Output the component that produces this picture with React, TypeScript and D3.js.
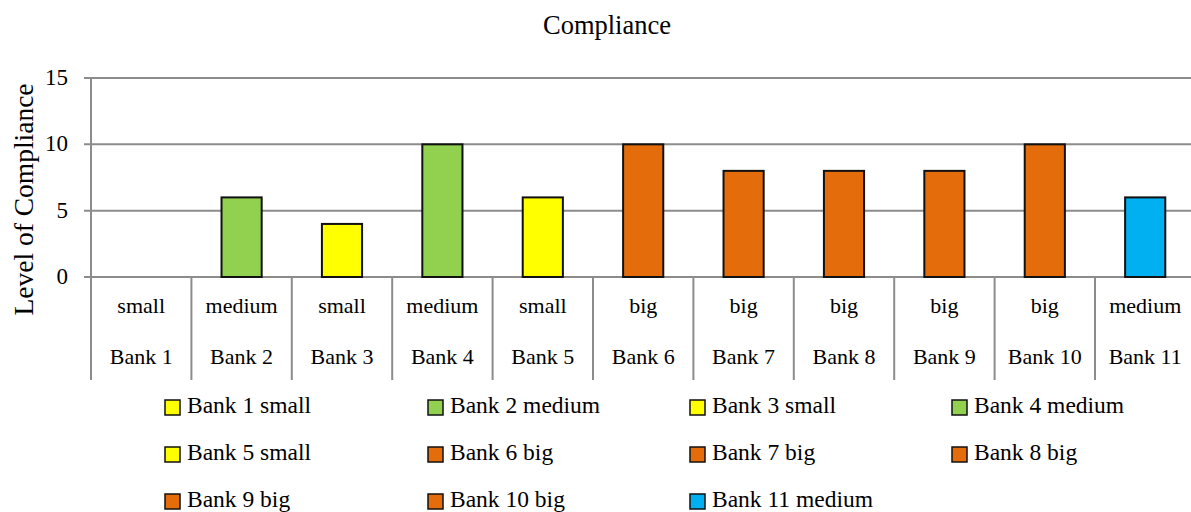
import React from "react";
import * as d3 from "d3";

const banks = ["Bank 1", "Bank 2", "Bank 3", "Bank 4", "Bank 5", "Bank 6", "Bank 7", "Bank 8", "Bank 9", "Bank 10", "Bank 11"];
const sizes = ["small", "medium", "small", "medium", "small", "big", "big", "big", "big", "big", "medium"];
const values = [0, 6, 4, 10, 6, 10, 8, 8, 8, 10, 6];
const colors = ["#FFFF00", "#92D050", "#FFFF00", "#92D050", "#FFFF00", "#E46C0A", "#E46C0A", "#E46C0A", "#E46C0A", "#E46C0A", "#00B0F0"];
const yTicks = [0, 5, 10, 15];

const W = 1191;
const H = 512;
const FONT = "'Liberation Serif', 'Times New Roman', serif";

export default function App() {
  const left = 91;
  const bandW = 100.4;
  const x = d3.scaleBand<string>().domain(banks).range([left, left + bandW * banks.length]).paddingInner(0).paddingOuter(0);
  const y = d3.scaleLinear().domain([0, 15]).range([277, 78]);
  const bw = x.bandwidth() * 0.4;
  const axisBottom = 380;

  const legendCols = [165, 428, 690, 952];
  const legendRows = [413, 460, 507];

  return (
    <svg width={W} height={H} style={{ position: "absolute", left: 0, top: 0, background: "#fff", fontFamily: FONT }}>
      <text x={607} y={34} textAnchor="middle" fontSize={26.5}>Compliance</text>
      <text transform={`translate(33, ${y(7.5) + 22}) rotate(-90)`} textAnchor="middle" fontSize={27.5}>Level of Compliance</text>
      {yTicks.map((t) => (
        <g key={t}>
          <line x1={84} x2={W} y1={y(t)} y2={y(t)} stroke="#8c8c8c" strokeWidth={2} />
          <text x={68} y={y(t) + 7} textAnchor="end" fontSize={23}>{t}</text>
        </g>
      ))}
      <line x1={left} x2={left} y1={y(15)} y2={axisBottom} stroke="#8c8c8c" strokeWidth={2} />
      {banks.map((b, i) => (
        <g key={b}>
          <line x1={(x(b) as number) + x.bandwidth()} x2={(x(b) as number) + x.bandwidth()} y1={y(0)} y2={axisBottom} stroke="#8c8c8c" strokeWidth={2} />
          <text x={(x(b) as number) + x.bandwidth() / 2} y={313} textAnchor="middle" fontSize={22}>{sizes[i]}</text>
          <text x={(x(b) as number) + x.bandwidth() / 2} y={364} textAnchor="middle" fontSize={22}>{b}</text>
          {values[i] > 0 && (
            <rect x={(x(b) as number) + (x.bandwidth() - bw) / 2} y={y(values[i])} width={bw} height={y(0) - y(values[i])} fill={colors[i]} stroke="#111" strokeWidth={2} />
          )}
        </g>
      ))}
      {banks.map((b, i) => {
        const cx = legendCols[i % 4];
        const cy = legendRows[Math.floor(i / 4)];
        return (
          <g key={"lg" + b}>
            <rect x={cx} y={cy - 13} width={15} height={15} fill={colors[i]} stroke="#111" strokeWidth={1.5} />
            <text x={cx + 22} y={cy} fontSize={23.5}>{`${b} ${sizes[i]}`}</text>
          </g>
        );
      })}
    </svg>
  );
}
